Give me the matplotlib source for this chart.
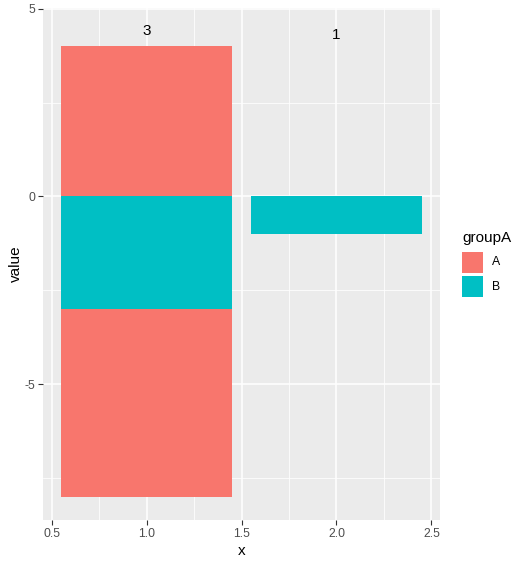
import matplotlib
matplotlib.use("Agg")
import matplotlib.pyplot as plt
from matplotlib.patches import Rectangle
import numpy as np

plt.rcParams['font.family'] = ['Liberation Sans', 'DejaVu Sans']

# ---- data ----
bar_x = [1, 1, 1, 2]
bar_group = ["A", "B", "A", "B"]
bar_value = [4, -3, -5, -1]
groups = ["A", "B"]
group_colors = {"A": "#F8766D", "B": "#00BFC4"}
label_x = [1, 2]
label_y = [4.4, 4.3]
label_text = ["3", "1"]
x_ticks = [0.5, 1.0, 1.5, 2.0, 2.5]
y_ticks = [-5, 0, 5]
bar_width = 0.9
legend_title = "groupA"

W, H = 523, 565
fig = plt.figure(figsize=(W / 100, H / 100), dpi=100)
left, right, top, bottom = 43, 440, 8, 520
ax = fig.add_axes([left / W, 1 - bottom / H, (right - left) / W, (bottom - top) / H])
ax.set_facecolor("#EBEBEB")
for s in ax.spines.values():
    s.set_visible(False)

# stacking (ggplot position_stack: positives and negatives separately)
pos_base = {}
neg_base = {}
for x, g, v in zip(bar_x, bar_group, bar_value):
    if v >= 0:
        b = pos_base.get(x, 0)
        pos_base[x] = b + v
    else:
        b = neg_base.get(x, 0)
        neg_base[x] = b + v
    ax.bar(x, v, bottom=b, width=bar_width, color=group_colors[g], linewidth=0, zorder=3)

for x, y, t in zip(label_x, label_y, label_text):
    ax.text(x, y, t, ha="center", va="center", fontsize=11, color="black", zorder=4)

ax.set_xlim(0.455, 2.545)
ax.set_ylim(-8.62, 5.02)
ax.set_xticks(x_ticks)
ax.set_xticklabels([f"{t:.1f}" for t in x_ticks])
ax.set_yticks(y_ticks)
ax.set_yticklabels([str(t) for t in y_ticks])
ax.set_xticks([0.75, 1.25, 1.75, 2.25], minor=True)
ax.set_yticks([-7.5, -2.5, 2.5], minor=True)
ax.grid(True, which="major", color="white", linewidth=1.1, zorder=1)
ax.grid(True, which="minor", color="white", linewidth=0.55, zorder=1)
ax.set_axisbelow(True)
ax.tick_params(which="major", length=3.5, width=0.8, color="#333333",
               labelcolor="#4D4D4D", labelsize=8.8, pad=2)
ax.tick_params(which="minor", length=0)
ax.set_xlabel("x", fontsize=11, labelpad=3)
ax.set_ylabel("value", fontsize=11, labelpad=1)

# ---- legend (figure pixel coordinates, origin top-left) ----
def fx(px):
    return px / W

def fy(py):
    return 1 - py / H

fig.text(fx(462), fy(238), legend_title, fontsize=11, ha="left", va="center", color="black")
key_top = 252
key_size = 21
key_step = 24
for i, g in enumerate(groups):
    t = key_top + i * key_step
    fig.add_artist(Rectangle((fx(462), fy(t + key_size)), key_size / W, key_size / H,
                             transform=fig.transFigure, facecolor=group_colors[g],
                             edgecolor="none"))
    fig.text(fx(492), fy(t + key_size / 2), g, fontsize=8.8, ha="left", va="center",
             color="black")

fig.savefig("out.png", dpi=100, facecolor="white")
